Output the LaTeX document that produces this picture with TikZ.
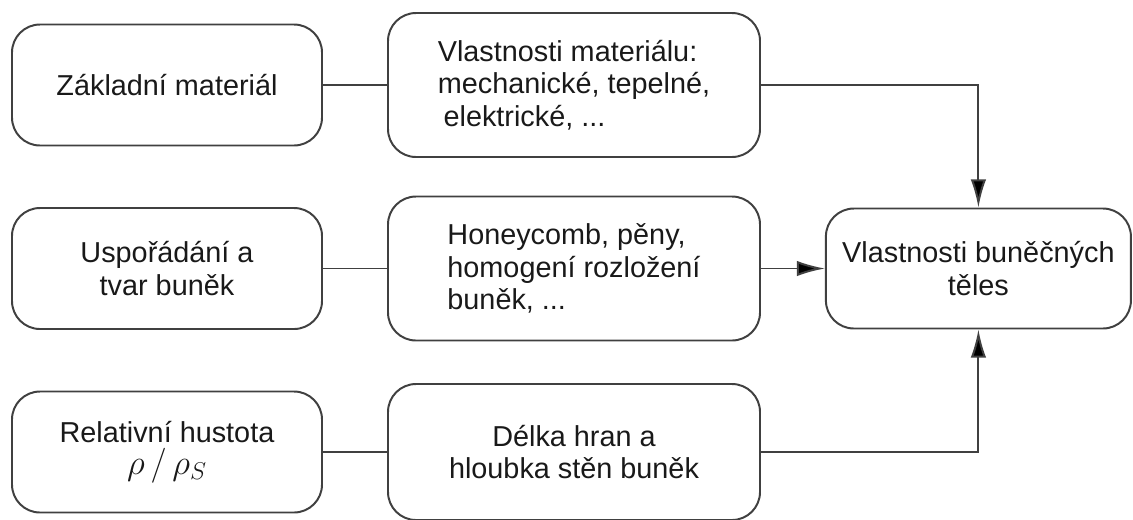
\documentclass[tikz,border=0pt]{standalone}
\usepackage{fontspec}
\setmainfont{Liberation Sans}
\usetikzlibrary{shapes.geometric, arrows.meta}
\tikzstyle{block} = [rectangle, rounded corners=0.7cm, minimum width=7.75cm, minimum height=3.025cm, align=center, draw=black!75, line width=1.4pt, text=black!90, font=\fontsize{20.5}{23}\selectfont]
\tikzstyle{wideblock} = [block, minimum width=9.3cm, minimum height=3.6cm]
\tikzstyle{link} = [line width=1.4pt, draw=black!75]
\tikzstyle{arrow} = [link, -{Latex[length=20pt,width=11pt,fill=black]}]

\begin{document}
\begin{tikzpicture}[node distance=4.5875cm]
    \useasboundingbox (0,0) rectangle (28.325,-12.975);
    \node (base) [block] at (4.175,-2.125) {Základní materiál};
    \node (arrange) [block, below of=base] {Uspořádání a\\tvar buněk};
    \node (density) [block, below of=arrange] {Relativní hustota\\{\fontsize{27}{24}\selectfont$\rho\,/\,\rho_S$}};

    \node (matprops) [wideblock, right of=base, node distance=10.175cm, align=left] {Vlastnosti materiálu:\\mechanické, tepelné,\\\hspace{0.2em}elektrické, ...};
    \node (geometry) [wideblock, right of=arrange, node distance=10.175cm, align=left] {Honeycomb, pěny,\\homogení rozložení\\buněk, ...};
    \node (walls) [wideblock, right of=density, node distance=10.175cm, minimum height=3.4cm] {Délka hran a\\hloubka stěn buněk};

    \node (cellprops) [block, right of=geometry, node distance=10.11cm, minimum width=7.625cm, minimum height=3cm] {Vlastnosti buněčných\\těles};

    \draw [link] (base) -- (matprops);
    \draw [link] (arrange) -- (geometry);
    \draw [link] (density) -- (walls);
    \draw [arrow] (matprops) -| (cellprops);
    \draw [arrow] (geometry) -- (cellprops);
    \draw [arrow] (walls) -| (cellprops);
\end{tikzpicture}
\end{document}
